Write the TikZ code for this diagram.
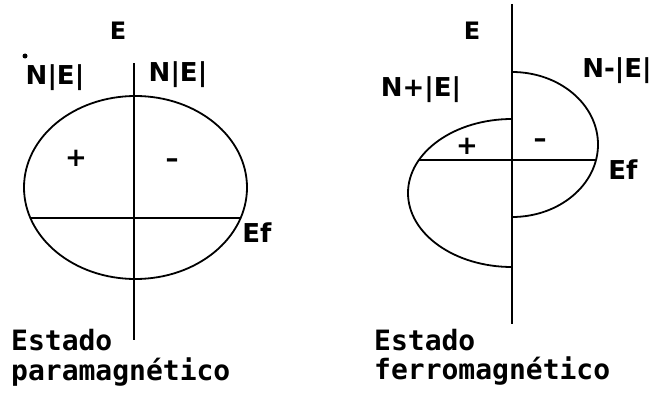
\documentclass[tikz,border=0pt]{standalone}
\usepackage{fontspec}
\setmainfont{DejaVu Sans}
\newfontfamily\capfont{DejaVu Sans Mono}
\begin{document}
\begin{tikzpicture}[x=1pt,y=-1pt,
  curve/.style={line width=1.8pt,line join=round},
  lbl/.style={inner sep=0pt,font=\bfseries\fontsize{26}{28}\selectfont},
  sgn/.style={inner sep=0pt,font=\bfseries\fontsize{26}{28}\selectfont},
  captxt/.style={inner sep=0pt,anchor=base west,font=\capfont\bfseries\fontsize{28}{30}\selectfont}]
\useasboundingbox (0,0) rectangle (655,396);
% ---------- left: paramagnetic ----------
\coordinate (LaxT) at (134,63);
\coordinate (LaxB) at (134,340);
\coordinate (LefL) at (30,218);
\coordinate (LefR) at (241,218);
\draw[curve] (LaxT) -- (LaxB);
\draw[curve] (135.5,187.5) ellipse [x radius=111.5, y radius=91.5];
\draw[curve] (LefL) -- (LefR);
\node[lbl,font=\bfseries\fontsize{24}{26}\selectfont] (LE) at (118,31) {E};
\node[lbl] (LNl) at (55,78) {N|E|};
\node[lbl] (LNr) at (178,75) {N|E|};
\fill (25,56) circle (2.5pt);
\node[sgn] (Lp) at (76,158) {+};
\node[sgn] (Lm) at (172,163) {–};
\node[lbl] (LEf) at (257,233) {Ef};
\node[captxt] (Lc1) at (11,350) {Estado};
\node[captxt] (Lc2) at (11,380) {paramagnético};
% ---------- right: ferromagnetic ----------
\coordinate (RaxT) at (512,4);
\coordinate (RaxB) at (512,324);
\coordinate (RmT) at (512,72);
\coordinate (RpT) at (512,119);
\coordinate (RefL) at (419,160);
\coordinate (RefR) at (596,160);
\draw[curve] (RaxT) -- (RaxB);
\draw[curve] (RmT) arc[start angle=-90, end angle=90, x radius=86, y radius=72.5];
\draw[curve] (RpT) arc[start angle=-90, end angle=-270, x radius=104, y radius=74];
\draw[curve] (RefL) -- (RefR);
\node[lbl,font=\bfseries\fontsize{24}{26}\selectfont] (RE) at (472,31) {E};
\node[lbl] (RNm) at (617,71) {N-|E|};
\node[lbl] (RNp) at (421,90) {N+|E|};
\node[sgn] (Rp) at (467,146) {+};
\node[sgn] (Rm) at (540,143) {–};
\node[lbl] (REf) at (623,170) {Ef};
\node[captxt] (Rc1) at (374,350) {Estado};
\node[captxt] (Rc2) at (374,379) {ferromagnético};
\end{tikzpicture}
\end{document}
